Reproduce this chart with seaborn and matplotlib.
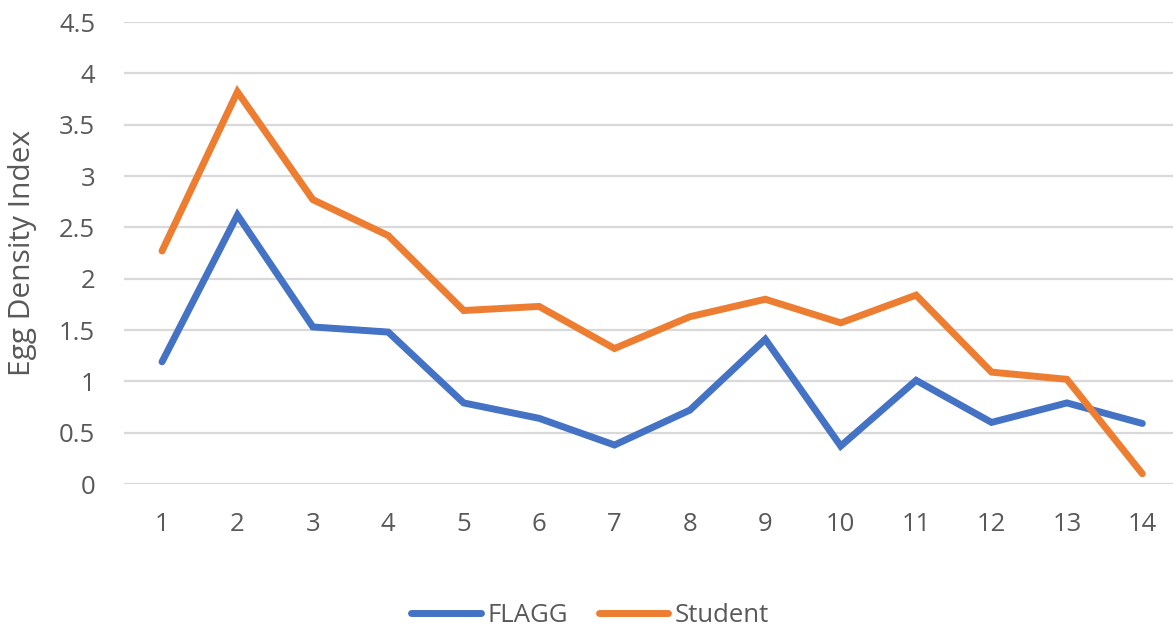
import matplotlib
matplotlib.use("Agg")
import matplotlib.pyplot as plt
import seaborn as sns
import pandas as pd
from matplotlib.lines import Line2D

# Sampling sites and egg density index by collector group
sites = list(range(1, 15))
flagg = [1.19, 2.62, 1.53, 1.48, 0.79, 0.64, 0.38, 0.72, 1.41, 0.37, 1.01, 0.60, 0.79, 0.59]
student = [2.27, 3.82, 2.77, 2.42, 1.69, 1.73, 1.32, 1.63, 1.80, 1.57, 1.84, 1.09, 1.02, 0.10]
series_names = ["FLAGG", "Student"]
colors = ["#4472C4", "#ED7D31"]
y_ticks = [0, 0.5, 1, 1.5, 2, 2.5, 3, 3.5, 4, 4.5]
y_tick_labels = ["0", "0.5", "1", "1.5", "2", "2.5", "3", "3.5", "4", "4.5"]

df = pd.DataFrame({
    "site": sites * 2,
    "value": flagg + student,
    "group": [series_names[0]] * len(sites) + [series_names[1]] * len(sites),
})

sns.set_theme(style="white")
plt.rcParams["font.family"] = ["Open Sans", "DejaVu Sans"]
text_color = "#595959"

fig = plt.figure(figsize=(11.73, 6.26), dpi=100)
ax = fig.add_axes([0.106, 0.2268, 0.9, 0.738])

sns.lineplot(data=df, x="site", y="value", hue="group", palette=colors,
             linewidth=5, ax=ax, legend=False, sort=False,
             solid_capstyle="round", solid_joinstyle="miter")

ax.set_xlim(0.5, 14.5)
ax.set_ylim(0, 4.5)
ax.set_yticks(y_ticks)
ax.set_yticklabels(y_tick_labels)
ax.set_xticks(sites)
ax.set_xticklabels([str(s) for s in sites])
ax.yaxis.grid(True, color="#D9D9D9", linewidth=1.6)
ax.xaxis.grid(False)
ax.set_axisbelow(True)
for sp in ax.spines.values():
    sp.set_visible(False)
ax.tick_params(axis="both", length=0, labelsize=18.5, colors=text_color)
ax.tick_params(axis="y", pad=21)
ax.tick_params(axis="x", pad=20)
ax.set_xlabel("")
ax.set_ylabel("Egg Density Index", fontsize=21.5, color=text_color)
ax.yaxis.set_label_coords(-0.083, 0.5)

handles = [Line2D([], [], color=c, linewidth=5, solid_capstyle="round") for c in colors]
fig.legend(handles, series_names, loc="center", bbox_to_anchor=(0.503, 0.017),
           ncol=2, frameon=False, fontsize=18.5, handlelength=2.7,
           handletextpad=0.25, columnspacing=1.2, labelcolor=text_color)

fig.savefig("out.png", dpi=100, facecolor="white")
